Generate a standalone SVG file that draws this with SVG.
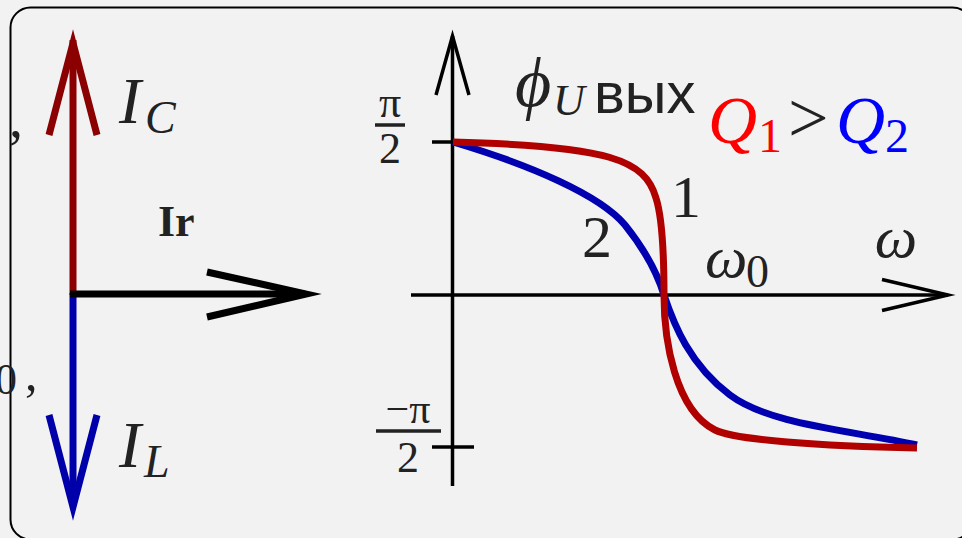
<svg xmlns="http://www.w3.org/2000/svg" width="962" height="538" viewBox="0 0 962 538">
<style>
.t{font-family:"Liberation Serif","DejaVu Serif",serif;fill:#222}
.i{font-style:italic}
.s{font-family:"Liberation Sans",Arial,sans-serif;fill:#222}
.ax{fill:none;stroke:#000;stroke-width:3.5;stroke-linejoin:miter;stroke-miterlimit:10}
.big{fill:none;stroke-width:7;stroke-linejoin:miter;stroke-miterlimit:10}
.cv{fill:none;stroke-width:7;stroke-linecap:butt}
</style>
<rect x="0" y="0" width="962" height="538" fill="#f2f2f2"/>
<rect id="frame" x="10.5" y="7.5" width="962" height="532" rx="20" fill="none" stroke="#000" stroke-width="2"/>
<text class="t" x="9" y="137" font-size="56">,</text>
<text class="t" x="-5" y="394" font-size="44">0</text>
<text class="t" x="25" y="390" font-size="50">,</text>

<g id="phasor">
  <g id="ic-arrow">
    <line x1="73" y1="295" x2="73" y2="40" stroke="#8b0000" stroke-width="7"/>
    <polyline class="big" stroke="#8b0000" points="49,135 73,43 97,135"/>
  </g>
  <g id="il-arrow">
    <line x1="73" y1="293" x2="73" y2="505" stroke="#0000aa" stroke-width="7"/>
    <polyline class="big" stroke="#0000aa" points="49,415 73,507 97,415"/>
  </g>
  <g id="ir-arrow">
    <line x1="70" y1="294" x2="305" y2="294" stroke="#000" stroke-width="7"/>
    <polyline class="big" stroke="#000" points="207,272 306,294 207,317"/>
  </g>
  <text class="t i" x="119" y="123" font-size="66">I</text>
  <text class="t i" x="145" y="133" font-size="46">C</text>
  <text class="t i" x="119" y="467" font-size="66">I</text>
  <text class="t i" x="144" y="477" font-size="46">L</text>
  <text class="t" x="158" y="236" font-size="44" font-weight="bold">Ir</text>
</g>

<g id="axes">
  <line class="ax" x1="452.5" y1="36" x2="452.5" y2="486"/>
  <polyline class="ax" points="436,95 452.5,36 469,95"/>
  <line class="ax" x1="411" y1="295" x2="948" y2="295"/>
  <polyline class="ax" points="882,279.5 948,295 882,310.5"/>
  <line class="ax" x1="432" y1="142" x2="452" y2="142"/>
  <line class="ax" x1="432" y1="447" x2="474" y2="447"/>
</g>

<g id="curves">
  <path id="curve2" class="cv" stroke="#0000b0" d="M453,142 C530,165 600,195 625,225 C645,250 657,272 664,295 C674,325 690,365 730,395 C770,425 850,430 917,445"/>
  <path id="curve1" class="cv" stroke="#b00000" d="M453,142 C610,146 645,160 656,198 C663,220 664,260 664,295 C664,340 675,410 715,430 C735,440 820,446 917,448"/>
</g>

<g id="labels">
  <text class="t" x="390" y="117" font-size="44" text-anchor="middle">π</text>
  <line x1="375" y1="125" x2="405" y2="125" stroke="#222" stroke-width="3.5"/>
  <text class="t" x="390" y="163" font-size="44" text-anchor="middle">2</text>
  <text class="t" x="408" y="423" font-size="42" text-anchor="middle">−π</text>
  <line x1="376" y1="431" x2="441" y2="431" stroke="#222" stroke-width="3.5"/>
  <text class="t" x="408" y="472" font-size="44" text-anchor="middle">2</text>

  <text class="t i" x="515" y="106" font-size="70">ϕ</text>
  <text class="t i" x="553" y="115" font-size="44">U</text>
  <text class="s" x="594" y="113" font-size="58">вых</text>

  <text class="t i" x="708" y="143" font-size="68" style="fill:#ff0000">Q</text>
  <text class="t" x="758" y="152" font-size="48" style="fill:#ff0000">1</text>
  <text class="t" x="788" y="142" font-size="72">&gt;</text>
  <text class="t i" x="836" y="143" font-size="68" style="fill:#0000ff">Q</text>
  <text class="t" x="885" y="152" font-size="48" style="fill:#0000ff">2</text>

  <text class="t" x="686" y="217" font-size="60" text-anchor="middle">1</text>
  <text class="t" x="597" y="257" font-size="60" text-anchor="middle">2</text>
  <text class="t i" x="896" y="257" font-size="60" text-anchor="middle">ω</text>
  <text class="t i" x="705" y="277" font-size="60">ω</text>
  <text class="t" x="746" y="287" font-size="46">0</text>
</g>
</svg>
